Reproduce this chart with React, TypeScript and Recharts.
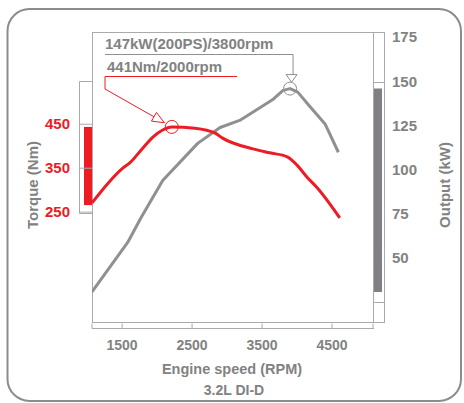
import React from "react";
import { LineChart, Line, XAxis, YAxis, ReferenceArea, Customized } from "recharts";

// engine speed samples
const torqueRpm = [1070, 1300, 1510, 1610, 1770, 1940, 2080, 2210, 2540, 2830, 2930, 3370, 3610, 3860, 4000, 4140, 4290, 4610];
const torqueNm = [271, 316, 350, 362, 391, 421, 437, 444, 441, 430, 419, 394, 385, 376, 357, 330, 305, 237];
const outputRpm = [1070, 1580, 1770, 2080, 2580, 2900, 3180, 3660, 3800, 3900, 4010, 4180, 4400, 4590];
const outputKw = [31, 59, 73, 94, 115, 124, 128, 140, 145, 146, 144, 136, 126, 110];

const rpmTicks = [1500, 2500, 3500, 4500];
const torqueTicks = [250, 350, 450];
const outputTicks = [50, 75, 100, 125, 150, 175];
const torqueBand = [266, 444];
const outputBand = [31, 146];

const RPM_MIN = 1070;
const RPM_MAX = 5085;

const torqueData = torqueRpm.map((rpm, i) => ({ rpm, torque: torqueNm[i] }));
const outputData = outputRpm.map((rpm, i) => ({ rpm, output: outputKw[i] }));
const torquePeak = torqueNm.indexOf(Math.max(...torqueNm));
const outputPeak = outputKw.indexOf(Math.max(...outputKw));

const FONT = "'Liberation Sans', Arial, Helvetica, sans-serif";
const RED = "#ed1c24";
const GREY_LINE = "#909090";
const GREY_TEXT = "#828282";
const FRAME = "#aaaaaa";

function LeftTick(props: any) {
  const { y, payload } = props;
  return (
    <g>
      <line x1={79} y1={y} x2={92} y2={y} stroke={FRAME} />
      <text x={70} y={y + 5} textAnchor="end" fill={RED} fontFamily={FONT} fontWeight={700} fontSize={15}>
        {payload.value}
      </text>
    </g>
  );
}

function RightTick(props: any) {
  const { y, payload } = props;
  return (
    <text x={392} y={y + 5} textAnchor="start" fill={GREY_TEXT} fontFamily={FONT} fontWeight={700} fontSize={15}>
      {payload.value}
    </text>
  );
}

function BottomTick(props: any) {
  const { x, payload } = props;
  const show = rpmTicks.includes(payload.value);
  return (
    <g>
      <line x1={x} y1={323.5} x2={x} y2={328.5} stroke={FRAME} />
      {show && (
        <text x={x} y={350} textAnchor="middle" fill={GREY_TEXT} fontFamily={FONT} fontWeight={700} fontSize={14}>
          {payload.value}
        </text>
      )}
    </g>
  );
}

function TorqueDot(p: any) {
  if (p.index !== torquePeak) return <g key={`t${p.index}`} />;
  const { cx, cy } = p;
  const sx = 105;
  const sy = 89;
  const dx = sx - cx;
  const dy = sy - cy;
  const len = Math.hypot(dx, dy);
  const ux = dx / len;
  const uy = dy / len;
  const tx = cx + ux * 8.5;
  const ty = cy + uy * 8.5;
  const bx = tx + ux * 12;
  const by = ty + uy * 12;
  return (
    <g key={`t${p.index}`}>
      <polyline points={`105,76.5 ${sx},${sy} ${bx},${by}`} fill="none" stroke={RED} strokeWidth={1} />
      <polygon
        points={`${tx},${ty} ${bx - uy * 5},${by + ux * 5} ${bx + uy * 5},${by - ux * 5}`}
        fill="#fff"
        stroke={RED}
        strokeWidth={1}
      />
      <circle cx={cx} cy={cy} r={6.5} fill="none" stroke={RED} strokeWidth={1} />
    </g>
  );
}

function OutputDot(p: any) {
  if (p.index !== outputPeak) return <g key={`o${p.index}`} />;
  const { cx, cy } = p;
  const top = cy - 14;
  const tip = cy - 6.5;
  return (
    <g key={`o${p.index}`}>
      <polyline points={`105,54.5 ${cx + 3},54.5 ${cx + 3},${top}`} fill="none" stroke={GREY_LINE} strokeWidth={1} />
      <polygon points={`${cx - 4},${top} ${cx + 7},${top} ${cx + 1.5},${tip}`} fill="#fff" stroke={GREY_LINE} strokeWidth={1} />
      <circle cx={cx} cy={cy} r={6.5} fill="none" stroke={GREY_LINE} strokeWidth={1} />
    </g>
  );
}

function Frame() {
  return (
    <g>
      <rect x={7.5} y={9} width={453.5} height={392} rx={22} fill="#fff" stroke="#8c8c8c" strokeWidth={2} />
      <rect x={92.5} y={32.5} width={292} height={290} fill="none" stroke={FRAME} />
      <line x1={373.5} y1={32.5} x2={373.5} y2={322.5} stroke={FRAME} />
      <line x1={373.5} y1={82.5} x2={384.5} y2={82.5} stroke={FRAME} />
      <line x1={373.5} y1={302.5} x2={384.5} y2={302.5} stroke={FRAME} />
      <polyline points="92.5,81.5 79.5,81.5 79.5,213.5 92.5,213.5" fill="none" stroke={FRAME} />
      <line x1={92} y1={328.5} x2={374} y2={328.5} stroke={FRAME} />
      <text x={232} y={374} textAnchor="middle" fill={GREY_TEXT} fontFamily={FONT} fontWeight={700} fontSize={14.5}>
        Engine speed (RPM)
      </text>
      <text x={234} y={395} textAnchor="middle" fill={GREY_TEXT} fontFamily={FONT} fontWeight={700} fontSize={14}>
        3.2L DI-D
      </text>
      <text
        x={32}
        y={185}
        transform="rotate(-90, 32, 185)"
        textAnchor="middle"
        dominantBaseline="central"
        fill={GREY_TEXT}
        fontFamily={FONT}
        fontWeight={700}
        fontSize={15}
      >
        Torque (Nm)
      </text>
      <text
        x={444}
        y={185}
        transform="rotate(-90, 444, 185)"
        textAnchor="middle"
        dominantBaseline="central"
        fill={GREY_TEXT}
        fontFamily={FONT}
        fontWeight={700}
        fontSize={15}
      >
        Output (kW)
      </text>
      <text x={105} y={49} fill={GREY_TEXT} fontFamily={FONT} fontWeight={700} fontSize={15}>
        147kW(200PS)/3800rpm
      </text>
      <text x={107} y={72} fill={GREY_TEXT} fontFamily={FONT} fontWeight={700} fontSize={15}>
        441Nm/2000rpm
      </text>
      <line x1={105} y1={76.5} x2={237} y2={76.5} stroke={RED} />
    </g>
  );
}

export default function App() {
  return (
    <div style={{ position: "absolute", left: 0, top: 0, width: 464, height: 403, background: "#fff" }}>
      <LineChart width={464} height={403} margin={{ top: 32, right: 0, bottom: 0, left: 0 }}>
        <Customized component={Frame} />
        <XAxis
          dataKey="rpm"
          type="number"
          domain={[RPM_MIN, RPM_MAX]}
          ticks={[RPM_MIN, ...rpmTicks, RPM_MAX]}
          interval={0}
          height={81}
          axisLine={false}
          tickLine={false}
          tick={<BottomTick />}
          allowDataOverflow
        />
        <YAxis
          yAxisId="t"
          orientation="left"
          width={92}
          domain={[0, 660]}
          ticks={torqueTicks}
          interval={0}
          axisLine={false}
          tickLine={false}
          tick={<LeftTick />}
          allowDataOverflow
        />
        <YAxis
          yAxisId="p"
          orientation="right"
          width={91}
          domain={[14, 178]}
          ticks={outputTicks}
          interval={0}
          axisLine={false}
          tickLine={false}
          tick={<RightTick />}
          allowDataOverflow
        />
        <ReferenceArea
          yAxisId="t"
          x1={956}
          x2={1070}
          y1={torqueBand[0]}
          y2={torqueBand[1]}
          fill={RED}
          fillOpacity={1}
          stroke="none"
          ifOverflow="visible"
        />
        <ReferenceArea
          yAxisId="p"
          x1={5099}
          x2={5214}
          y1={outputBand[0]}
          y2={outputBand[1]}
          fill="#808084"
          fillOpacity={1}
          stroke="none"
          ifOverflow="visible"
        />
        <Line
          yAxisId="p"
          data={outputData}
          dataKey="output"
          type="linear"
          stroke={GREY_LINE}
          strokeWidth={3}
          strokeLinejoin="round"
          dot={OutputDot}
          activeDot={false}
          isAnimationActive={false}
        />
        <Line
          yAxisId="t"
          data={torqueData}
          dataKey="torque"
          type="monotone"
          stroke={RED}
          strokeWidth={3}
          dot={TorqueDot}
          activeDot={false}
          isAnimationActive={false}
        />
      </LineChart>
    </div>
  );
}
